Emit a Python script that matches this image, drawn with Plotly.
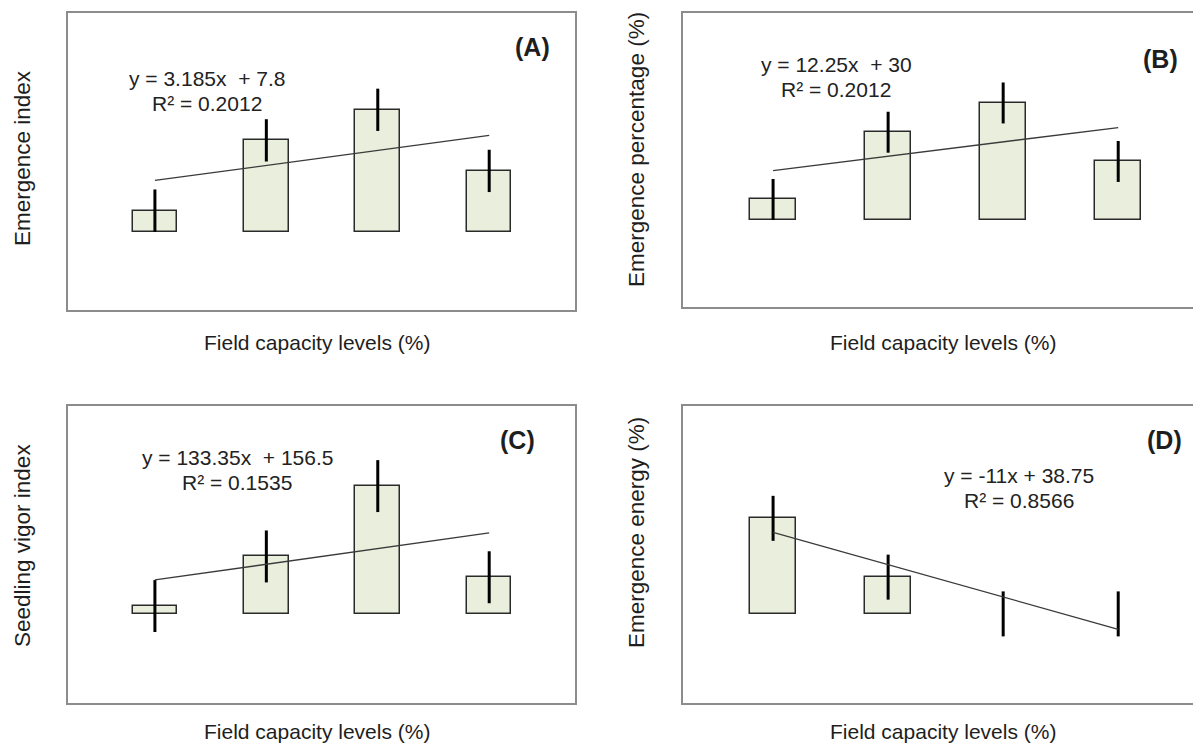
import plotly.graph_objects as go

# ---- data ----
levels = [1, 2, 3, 4]
emergence_index = [4.55, 19.5, 26.0, 13.0]
emergence_index_err = [4.5, 4.5, 4.5, 4.5]
emergence_pct = [17.5, 75.0, 100.0, 50.0]
emergence_pct_err = [17.5, 17.5, 17.5, 17.5]
vigor_index = [68.0, 490.0, 1088.5, 313.0]
vigor_index_err = [221.0, 221.0, 221.0, 221.0]
emergence_energy = [32.5, 12.5, 0.0, 0.0]
emergence_energy_err = [7.65, 7.65, 7.65, 7.65]

fits = {
    "A": (3.185, 7.8, "y = 3.185x  + 7.8", "R² = 0.2012"),
    "B": (12.25, 30.0, "y = 12.25x  + 30", "R² = 0.2012"),
    "C": (133.35, 156.5, "y = 133.35x  + 156.5", "R² = 0.1535"),
    "D": (-11.0, 38.75, "y = -11x + 38.75", "R² = 0.8566"),
}

y_titles = {
    "A": "Emergence index",
    "B": "Emergence percentage (%)",
    "C": "Seedling vigor index",
    "D": "Emergence energy (%)",
}
x_title = "Field capacity levels (%)"

W, H = 1193, 746
FONT = "Liberation Sans, Arial, sans-serif"
TXT = "#1e1e1e"
FRAME = "#8c8c8c"
BAR_FILL = "#eaeedd"
BAR_LINE = "#2a2a2a"

# pixel layout of panel frames
frames = {
    "A": dict(x0=68, x1=575, y0=13, y1=310),
    "B": dict(x0=683, x1=W, y0=13, y1=307),
    "C": dict(x0=68, x1=575, y0=406, y1=703),
    "D": dict(x0=683, x1=W, y0=406, y1=703),
}
xranges = {"A": [0.22, 4.77], "B": [0.217, 4.65], "C": [0.22, 4.77], "D": [0.217, 4.65]}
yranges = {"A": [-16.6, 46.6], "B": [-74.4, 176.9], "C": [-757, 1770], "D": [-30.3, 70.7]}
series = {
    "A": (emergence_index, emergence_index_err),
    "B": (emergence_pct, emergence_pct_err),
    "C": (vigor_index, vigor_index_err),
    "D": (emergence_energy, emergence_energy_err),
}
eq_pos = {"A": (207, 79, 104), "B": (836, 65, 90), "C": (237, 457, 482), "D": (1019, 475, 500)}
lab_pos = {"A": (532, 47), "B": (1160, 59), "C": (517, 440), "D": (1164, 440)}
ytitle_pos = {"A": (22, 158), "B": (636, 150), "C": (22, 546), "D": (636, 533)}
xtitle_pos = {"A": (317, 342), "B": (943, 342), "C": (317, 731), "D": (943, 731)}

fig = go.Figure()
annotations = []
for i, key in enumerate(["A", "B", "C", "D"]):
    n = "" if i == 0 else str(i + 1)
    xa, ya = "x" + n, "y" + n
    vals, errs = series[key]
    lw = [1.5 if v != 0 else 0 for v in vals]
    fig.add_trace(go.Bar(
        x=levels, y=vals, width=0.4, xaxis=xa, yaxis=ya,
        marker=dict(color=BAR_FILL, line=dict(color=BAR_LINE, width=lw)),
        error_y=dict(type="data", array=errs, visible=True, width=0,
                     thickness=3, color="#000000"),
        showlegend=False, hoverinfo="skip",
    ))
    slope, icpt, eq1, eq2 = fits[key]
    fx = [levels[0], levels[-1]]
    fig.add_trace(go.Scatter(
        x=fx, y=[slope * v + icpt for v in fx], mode="lines",
        line=dict(color="#3a3a3a", width=1.3), xaxis=xa, yaxis=ya,
        showlegend=False, hoverinfo="skip",
    ))
    f = frames[key]
    dom_x = [f["x0"] / W, min(f["x1"] / W, 1.0)]
    dom_y = [1 - f["y1"] / H, 1 - f["y0"] / H]
    open_right = f["x1"] >= W
    fig.update_layout({
        "xaxis" + n: dict(domain=dom_x, range=xranges[key], showticklabels=False,
                          ticks="", showgrid=False, zeroline=False, showline=True,
                          linecolor=FRAME, linewidth=2, mirror=True,
                          anchor=ya, fixedrange=True),
        "yaxis" + n: dict(domain=dom_y, range=yranges[key], showticklabels=False,
                          ticks="", showgrid=False, zeroline=False, showline=True,
                          linecolor=FRAME, linewidth=2,
                          mirror=False if open_right else True,
                          anchor=xa, fixedrange=True),
    })
    ex, ey1, ey2 = eq_pos[key]
    for txt, yy in ((eq1, ey1), (eq2, ey2)):
        annotations.append(dict(text=txt, x=ex / W, y=1 - yy / H, xref="paper", yref="paper",
                                showarrow=False, xanchor="center", yanchor="middle",
                                font=dict(family=FONT, size=21, color="#222222")))
    lx, ly = lab_pos[key]
    annotations.append(dict(text="<b>(" + key + ")</b>", x=lx / W, y=1 - ly / H,
                            xref="paper", yref="paper", showarrow=False,
                            xanchor="center", yanchor="middle",
                            font=dict(family=FONT, size=25, color=TXT)))
    tx, ty = ytitle_pos[key]
    annotations.append(dict(text=y_titles[key], x=tx / W, y=1 - ty / H, xref="paper",
                            yref="paper", showarrow=False, textangle=-90,
                            xanchor="center", yanchor="middle",
                            font=dict(family=FONT, size=22.5, color=TXT)))
    qx, qy = xtitle_pos[key]
    annotations.append(dict(text=x_title, x=qx / W, y=1 - qy / H, xref="paper",
                            yref="paper", showarrow=False, xanchor="center",
                            yanchor="middle", font=dict(family=FONT, size=21, color=TXT)))

fig.update_layout(
    width=W, height=H, margin=dict(l=0, r=0, t=0, b=0),
    paper_bgcolor="white", plot_bgcolor="white",
    bargap=0, annotations=annotations,
    font=dict(family=FONT, color=TXT),
)
fig.write_html("out.html", config={"displayModeBar": False},
               post_script="document.body.style.margin='0';document.body.style.overflow='hidden';")
